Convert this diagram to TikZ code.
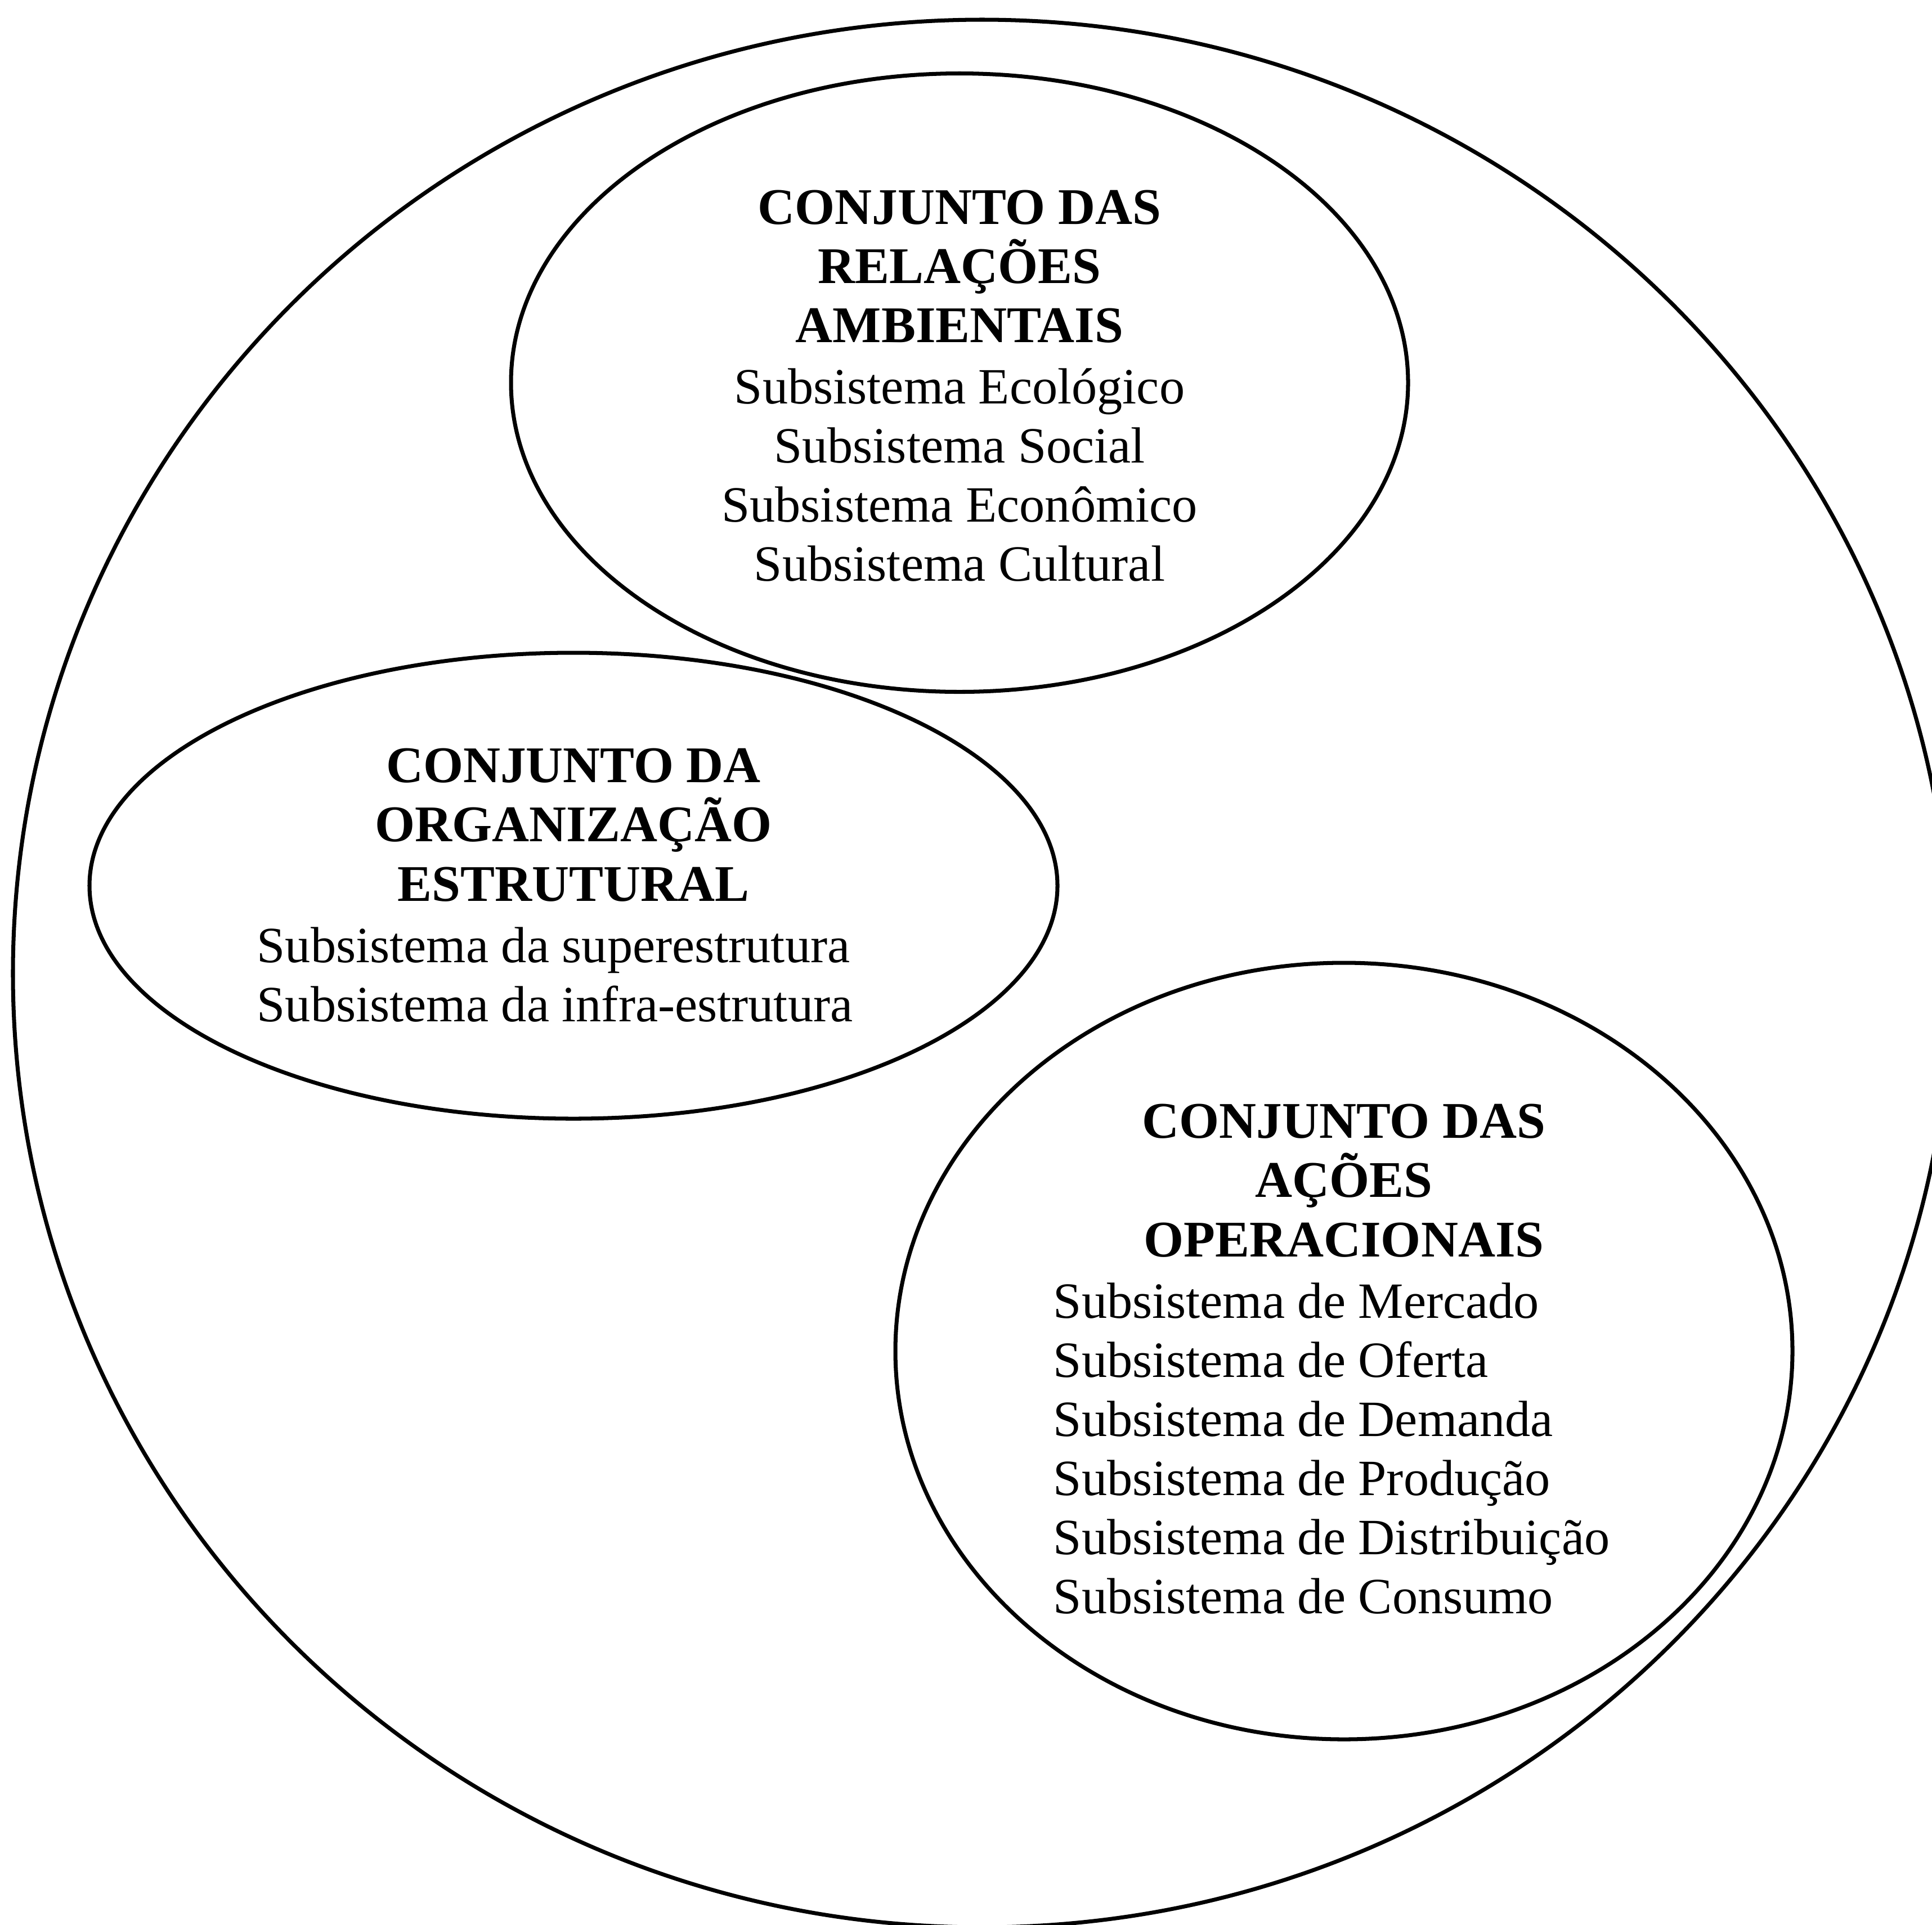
\documentclass[tikz,border=0pt]{standalone}
\usepackage{fontspec}
\setmainfont{Liberation Serif}
\usetikzlibrary{positioning,shapes.geometric}

\begin{document}
\begin{tikzpicture}[line width=2pt,
        conj/.style={draw, ellipse, inner sep=0pt},
        titulo/.style={font=\fontsize{26}{30}\selectfont\bfseries, align=center, inner sep=0pt},
        lista/.style={font=\fontsize{25.7}{29.9}\selectfont, inner sep=0pt}]

\useasboundingbox (0,0) rectangle (34.33,-34.20);

\node[conj, minimum width=34.44cm, minimum height=33.90cm] (sistema) at (17.45,-17.30) {};

\node[conj, minimum width=15.94cm, minimum height=10.99cm] (rel) at (17.05,-6.80) {};
\node[conj, minimum width=17.20cm, minimum height=8.28cm] (org) at (10.19,-15.74) {};
\node[conj, minimum width=15.94cm, minimum height=13.80cm] (acoes) at (23.88,-24.01) {};

\node[titulo, below=2.07cm of rel.north] (rel-t) {CONJUNTO DAS\\RELAÇÕES\\AMBIENTAIS};
\node[lista, align=center, below=0.38cm of rel-t] (rel-l) {Subsistema Ecológico\\Subsistema Social\\Subsistema Econômico\\Subsistema Cultural};

\node[titulo, below=1.70cm of org.north] (org-t) {CONJUNTO DA\\ORGANIZAÇÃO\\ESTRUTURAL};
\node[lista, align=left, below=0.38cm of org-t, xshift=-0.33cm] (org-l) {Subsistema da superestrutura\\Subsistema da infra-estrutura};

\node[titulo, below=2.51cm of acoes.north] (acoes-t) {CONJUNTO DAS\\AÇÕES\\OPERACIONAIS};
\node[lista, align=left, below=0.38cm of acoes-t, xshift=-0.22cm] (acoes-l) {Subsistema de Mercado\\Subsistema de Oferta\\Subsistema de Demanda\\Subsistema de Produção\\Subsistema de Distribuição\\Subsistema de Consumo};

\end{tikzpicture}
\end{document}
